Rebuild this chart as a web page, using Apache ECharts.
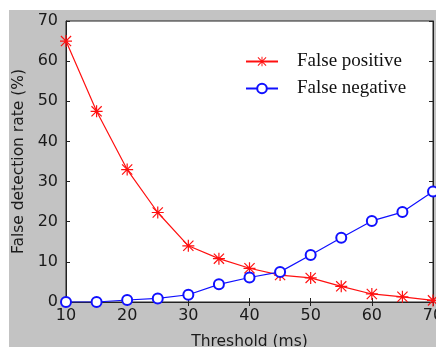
<!DOCTYPE html>
<html>
<head>
<meta charset="utf-8">
<script src="https://cdn.jsdelivr.net/npm/echarts@6/dist/echarts.min.js"></script>
<style>
  html, body { margin: 0; padding: 0; background: #fff; }
  #chart { width: 436px; height: 347px; }
</style>
</head>
<body>
<div id="chart"></div>
<script>
const thresholds = [10, 15, 20, 25, 30, 35, 40, 45, 50, 55, 60, 65, 70];
const falsePositive = [65, 47.5, 33, 22.3, 14, 10.8, 8.4, 6.7, 6, 3.9, 2, 1.3, 0.4];
const falseNegative = [0, 0, 0.5, 0.9, 1.8, 4.4, 6.1, 7.5, 11.7, 16, 20.2, 22.4, 27.5];

// matlab-like asterisk marker
const asterisk = 'path://M9 0H11V20H9Z M0 9H20V11H0Z ' +
  'M0.8 2.2L2.2 0.8L19.2 17.8L17.8 19.2Z M17.8 0.8L19.2 2.2L2.2 19.2L0.8 17.8Z';

const chart = echarts.init(document.getElementById('chart'), null, {renderer: 'canvas'});

const axisColor = '#222';
const tickLabel = {color: '#1a1a1a', fontFamily: 'DejaVu Sans', fontSize: 16};

const option = {
  animation: false,
  backgroundColor: '#fff',
  graphic: [{
    type: 'rect', z: -10, silent: true,
    shape: {x: 9, y: 10, width: 427, height: 337},
    style: {fill: '#c3c3c3'}
  }],
  grid: {
    left: 66, top: 21, right: 3, bottom: 45,
    outerBoundsMode: 'none', containLabel: false,
    show: true, backgroundColor: '#fff', borderColor: axisColor, borderWidth: 1
  },
  legend: {
    left: 240, top: 47, orient: 'vertical', itemWidth: 32, itemHeight: 12, itemGap: 8,
    textStyle: {fontFamily: 'Liberation Serif', fontSize: 19, color: '#111', padding: [0, 0, 0, 14]},
    data: ['False positive', 'False negative']
  },
  xAxis: [{
    type: 'value', min: 10, max: 70, interval: 10,
    name: 'Threshold (ms)', nameLocation: 'middle', nameGap: 32,
    nameTextStyle: {fontFamily: 'DejaVu Sans', fontSize: 15.5, color: '#1a1a1a'},
    axisLine: {lineStyle: {color: axisColor}},
    axisTick: {inside: true, length: 4, lineStyle: {color: axisColor}},
    axisLabel: Object.assign({margin: 6}, tickLabel),
    splitLine: {show: false}
  }, {
    type: 'value', min: 10, max: 70, interval: 10, position: 'top',
    axisLine: {lineStyle: {color: axisColor}},
    axisTick: {inside: true, length: 4, lineStyle: {color: axisColor}},
    axisLabel: {show: false}, splitLine: {show: false}
  }],
  yAxis: [{
    type: 'value', min: 0, max: 70, interval: 10,
    name: 'False detection rate (%)', nameLocation: 'middle', nameGap: 38,
    nameTextStyle: {fontFamily: 'DejaVu Sans', fontSize: 15.5, color: '#1a1a1a'},
    axisLine: {show: true, lineStyle: {color: axisColor}},
    axisTick: {show: true, inside: true, length: 4, lineStyle: {color: axisColor}},
    axisLabel: Object.assign({margin: 8}, tickLabel),
    splitLine: {show: false}
  }, {
    type: 'value', min: 0, max: 70, interval: 10, position: 'right',
    axisLine: {show: true, lineStyle: {color: axisColor}},
    axisTick: {show: true, inside: true, length: 4, lineStyle: {color: axisColor}},
    axisLabel: {show: false}, splitLine: {show: false}
  }],
  series: [{
    name: 'False positive', type: 'line',
    data: thresholds.map((t, i) => [t, falsePositive[i]]),
    symbol: asterisk, symbolSize: 12, showAllSymbol: true,
    lineStyle: {color: '#ff1010', width: 1.2},
    itemStyle: {color: '#ff1010', borderWidth: 0}
  }, {
    name: 'False negative', type: 'line',
    data: thresholds.map((t, i) => [t, falseNegative[i]]),
    symbol: 'emptyCircle', symbolSize: 10, showAllSymbol: true,
    lineStyle: {color: '#1010ff', width: 1.2},
    itemStyle: {color: '#1010ff', borderColor: '#1010ff', borderWidth: 1.2}
  }]
};

chart.setOption(option);
</script>
</body>
</html>
